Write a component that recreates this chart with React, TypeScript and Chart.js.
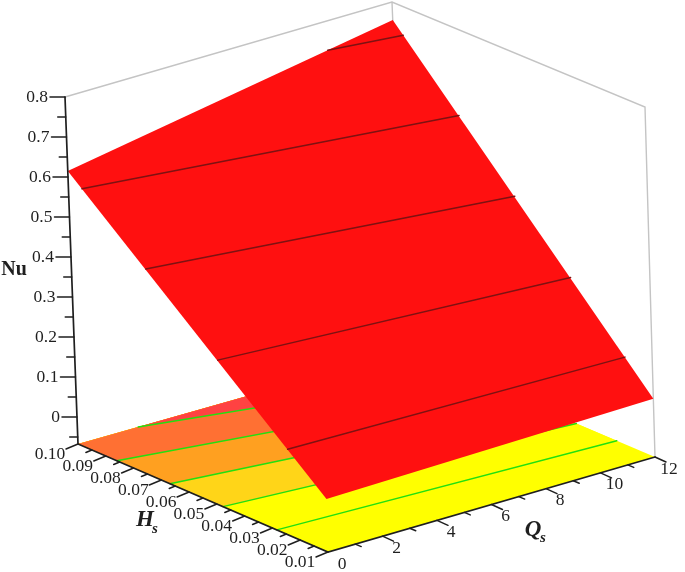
import React, { useEffect, useRef } from "react";
import { Chart, registerables } from "chart.js";

Chart.register(...registerables);

// ---- values ----
const qMajor = [0, 2, 4, 6, 8, 10, 12];
const qMinor = [1, 3, 5, 7, 9, 11];
const hMajor = [0.01, 0.02, 0.03, 0.04, 0.05, 0.06, 0.07, 0.08, 0.09, 0.1];
const hMajorLabels = ["0.01", "0.02", "0.03", "0.04", "0.05", "0.06", "0.07", "0.08", "0.09", "0.10"];
const hMinor = [0.015, 0.025, 0.035, 0.045, 0.055, 0.065, 0.075, 0.085, 0.095];
const nuMajor = [0, 0.1, 0.2, 0.3, 0.4, 0.5, 0.6, 0.7, 0.8];
const nuMajorLabels = ["0", "0.1", "0.2", "0.3", "0.4", "0.5", "0.6", "0.7", "0.8"];
const nuMinor = [-0.05, 0.05, 0.15, 0.25, 0.35, 0.45, 0.55, 0.65, 0.75];

const Q_RANGE = [0, 12];
const H_RANGE = [0.01, 0.1];
const NU_RANGE = [-0.0675, 0.8];

// Nu at the four corners of the surface: [Qs, Hs, Nu]
const surfaceCorners = [
  [0, 0.01, 0.0636],
  [12, 0.01, 0.0766],
  [12, 0.1, 0.755],
  [0, 0.1, 0.615],
];

// contour lines on the surface: level, and the (Qs, Hs) of both ends
const surfaceLevels = [0.147, 0.296, 0.443, 0.585, 0.727];
const surfaceStartQ = [0, 0, 0, 0, 9.6];
const surfaceStartH = [0.0236, 0.048, 0.073, 0.0951, 0.1];
const surfaceEndQ = [12, 12, 12, 12, 12];
const surfaceEndH = [0.0199, 0.0388, 0.0581, 0.0773, 0.0964];

// contour lines on the floor, from the far band to the near one
const floorStartQ = [2.2, 0, 0, 0, 0];
const floorStartH = [0.1, 0.086, 0.0669, 0.0478, 0.0284];
const floorEndH = [0.0802, 0.067, 0.0527, 0.0384, 0.0238];
const floorBandColors = ["#FF4242", "#FF7033", "#FFA020", "#FFD518", "#FFFF00", "#FFFF00"];

// ---- look ----
const W = 685;
const H = 572;
const SERIF = '"Liberation Serif", serif';
const INK = "#1f1f1f";
const FRAME = "#c4c4c4";
const SURFACE = "#FF1010";
const SURFACE_LINE = "#7E1212";
const FLOOR_LINE = "#22E010";

// page position of the eight corners of the plot box
const BOX = {
  floor: { a: [328, 552], b: [655, 457], c: [406, 351], d: [78, 444] },
  top: { a: [318, 202], b: [645, 107], c: [392, 2], d: [65, 97] },
};

type P = { x: number; y: number };

function project(q: number, h: number, nu: number): P {
  const u = (q - Q_RANGE[0]) / (Q_RANGE[1] - Q_RANGE[0]);
  const v = (h - H_RANGE[0]) / (H_RANGE[1] - H_RANGE[0]);
  const w = (nu - NU_RANGE[0]) / (NU_RANGE[1] - NU_RANGE[0]);
  const corner = (k: 0 | 1, lvl: typeof BOX.floor) =>
    (1 - u) * (1 - v) * lvl.a[k] + u * (1 - v) * lvl.b[k] + u * v * lvl.c[k] + (1 - u) * v * lvl.d[k];
  return {
    x: (1 - w) * corner(0, BOX.floor) + w * corner(0, BOX.top),
    y: (1 - w) * corner(1, BOX.floor) + w * corner(1, BOX.top),
  };
}

const NU0 = NU_RANGE[0];
const NU1 = NU_RANGE[1];
const [Q0, Q1] = Q_RANGE;
const [H0, H1] = H_RANGE;

const GAP: P = { x: NaN, y: NaN };

function ticks(points: P[], dx: number, dy: number): P[] {
  return points.flatMap((p) => [p, { x: p.x + dx, y: p.y + dy }, GAP]);
}

function line(label: string, data: P[], color: string, width: number) {
  return {
    label,
    data,
    showLine: true,
    borderColor: color,
    borderWidth: width,
    pointRadius: 0,
    pointHoverRadius: 0,
    tension: 0,
    fill: false,
    spanGaps: false,
    borderCapStyle: "round",
  };
}

function polygon(label: string, data: P[], color: string) {
  return { ...line(label, data, "rgba(0,0,0,0)", 0), polygonFill: color };
}

function buildDatasets() {
  const out: any[] = [];

  // back frame
  out.push(
    line(
      "frame",
      [
        project(Q0, H1, NU1),
        project(Q1, H1, NU1),
        project(Q1, H0, NU1),
        project(Q1, H0, NU0),
        GAP,
        project(Q1, H1, NU1),
        project(Q1, H1, NU0),
      ],
      FRAME,
      1.4
    )
  );

  // floor bands: each covers everything on the far side of its contour
  const edge = floorStartQ.map((q, i) => ({
    start: project(q, floorStartH[i], NU0),
    end: project(Q1, floorEndH[i], NU0),
  }));
  out.push(
    polygon(
      "floor base",
      [project(Q0, H0, NU0), project(Q1, H0, NU0), project(Q1, H1, NU0), project(Q0, H1, NU0)],
      floorBandColors[5]
    )
  );
  edge
    .slice()
    .reverse()
    .forEach((_, ri) => {
      const i = edge.length - 1 - ri;
      const pts: P[] = [edge[i].start, edge[i].end, project(Q1, H1, NU0)];
      if (floorStartQ[i] === Q0) pts.push(project(Q0, H1, NU0));
      out.push(polygon("floor band " + i, pts, floorBandColors[i]));
    });
  edge.forEach((e, i) => {
    out.push(line("floor contour " + i, [e.start, e.end], FLOOR_LINE, 1.4));
  });

  // surface
  out.push(
    polygon(
      "surface",
      surfaceCorners.map((c) => project(c[0], c[1], c[2])),
      SURFACE
    )
  );
  const nuAt = (q: number, h: number) => {
    const u = (q - Q0) / (Q1 - Q0);
    const v = (h - H0) / (H1 - H0);
    const n = surfaceCorners.map((c) => c[2]);
    return (1 - u) * (1 - v) * n[0] + u * (1 - v) * n[1] + u * v * n[2] + (1 - u) * v * n[3];
  };
  surfaceLevels.forEach((_, i) => {
    out.push(
      line(
        "surface contour " + i,
        [
          project(surfaceStartQ[i], surfaceStartH[i], nuAt(surfaceStartQ[i], surfaceStartH[i])),
          project(surfaceEndQ[i], surfaceEndH[i], nuAt(surfaceEndQ[i], surfaceEndH[i])),
        ],
        SURFACE_LINE,
        1.5
      )
    );
  });

  // black axes
  out.push(
    line(
      "axes",
      [
        project(Q0, H1, NU1),
        project(Q0, H1, NU0),
        project(Q0, H0, NU0),
        project(Q1, H0, NU0),
      ],
      INK,
      1.7
    )
  );
  out.push(line("Nu ticks", ticks(nuMajor.map((n) => project(Q0, H1, n)), -15, 0), INK, 1.5));
  out.push(line("Nu minor ticks", ticks(nuMinor.map((n) => project(Q0, H1, n)), -8, 0), INK, 1.5));
  out.push(line("Q ticks", ticks(qMajor.slice(1).map((q) => project(q, H0, NU0)), 11, 5), INK, 1.5));
  out.push(line("Q minor ticks", ticks(qMinor.map((q) => project(q, H0, NU0)), 6, 2.5), INK, 1.5));
  out.push(line("H ticks", ticks(hMajor.map((h) => project(Q0, h, NU0)), -12, 5), INK, 1.5));
  out.push(line("H minor ticks", ticks(hMinor.map((h) => project(Q0, h, NU0)), -6, 2.5), INK, 1.5));

  // first painted = highest order
  out.forEach((d, i) => (d.order = out.length - i));
  return out;
}

const polygonPlugin = {
  id: "polygonFill",
  beforeDatasetDraw(chart: any, args: any) {
    const ds = chart.data.datasets[args.index];
    if (!ds.polygonFill) return;
    const pts = args.meta.data;
    const ctx = chart.ctx;
    ctx.save();
    ctx.fillStyle = ds.polygonFill;
    ctx.beginPath();
    pts.forEach((p: any, i: number) => (i ? ctx.lineTo(p.x, p.y) : ctx.moveTo(p.x, p.y)));
    ctx.closePath();
    ctx.fill();
    ctx.restore();
  },
};

const labelPlugin = {
  id: "boxLabels",
  afterDatasetsDraw(chart: any) {
    const ctx = chart.ctx;
    const sx = (v: number) => chart.scales.x.getPixelForValue(v);
    const sy = (v: number) => chart.scales.y.getPixelForValue(v);
    const put = (t: string, p: P, dx: number, dy: number, align: CanvasTextAlign = "center") => {
      ctx.textAlign = align;
      ctx.fillText(t, sx(p.x) + dx, sy(p.y) + dy);
    };
    ctx.save();
    ctx.fillStyle = INK;
    ctx.textBaseline = "middle";
    ctx.font = `17.5px ${SERIF}`;
    nuMajor.forEach((n, i) => put(nuMajorLabels[i], project(Q0, H1, n), -17, 0, "right"));
    qMajor.forEach((q) => put(String(q), project(q, H0, NU0), 14, 12));
    hMajor.forEach((h, i) => put(hMajorLabels[i], project(Q0, h, NU0), -28, 10));

    ctx.textAlign = "center";
    ctx.font = `bold 20px ${SERIF}`;
    ctx.fillText("Nu", 14, 270);
    ctx.font = `italic bold 23px ${SERIF}`;
    ctx.fillText("H", 145, 520);
    ctx.fillText("Q", 533, 530);
    ctx.font = `italic bold 15px ${SERIF}`;
    ctx.fillText("s", 155, 529);
    ctx.fillText("s", 543, 538);
    ctx.restore();
  },
};

export default function App() {
  const ref = useRef<HTMLCanvasElement>(null);
  useEffect(() => {
    if (!ref.current) return;
    const chart = new Chart(ref.current, {
      type: "scatter",
      data: { datasets: buildDatasets() },
      plugins: [polygonPlugin, labelPlugin],
      options: {
        animation: false,
        responsive: false,
        maintainAspectRatio: false,
        layout: { padding: 0 },
        clip: false,
        events: [],
        scales: {
          x: { type: "linear", display: false, min: 0, max: W },
          y: { type: "linear", display: false, min: 0, max: H, reverse: true },
        },
        plugins: { legend: { display: false }, tooltip: { enabled: false }, title: { display: false } },
      } as any,
    } as any);
    return () => chart.destroy();
  }, []);
  return (
    <div style={{ position: "absolute", left: 0, top: 0, width: W, height: H, background: "#fff" }}>
      <canvas ref={ref} width={W} height={H} style={{ display: "block", filter: "blur(0.55px)" }} />
    </div>
  );
}
